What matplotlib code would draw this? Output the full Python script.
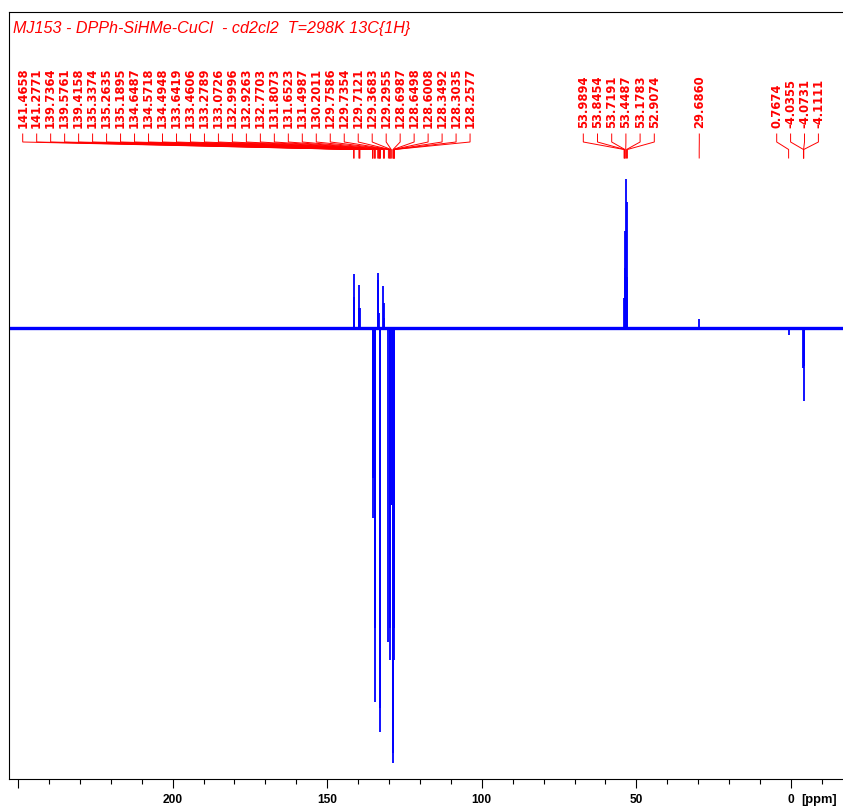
import matplotlib
matplotlib.use("Agg")
import matplotlib.pyplot as plt
from matplotlib.ticker import MultipleLocator, FixedLocator, FixedFormatter

# ---------------- data ----------------
title = "MJ153 - DPPh-SiHMe-CuCl  - cd2cl2  T=298K 13C{1H}"

peak_ppm = [141.4658, 141.2771, 139.7364, 139.5761, 139.4158, 135.3374, 135.2635,
            135.1895, 134.6487, 134.5718, 134.4948, 133.6419, 133.4606, 133.2789,
            133.0726, 132.9996, 132.9263, 132.7703, 131.8073, 131.6523, 131.4987,
            130.2011, 129.7586, 129.7354, 129.7121, 129.3683, 129.2955, 128.6987,
            128.6498, 128.6008, 128.3492, 128.3035, 128.2577,
            53.9894, 53.8454, 53.7191, 53.4487, 53.1783, 52.9074,
            29.6860,
            0.7674, -4.0355, -4.0731, -4.1111]
peak_int = [54, 31, 20, 43, 20, -150, -190,
            -150, -300, -374, -190, 55, 48, 15,
            -404, -380, -341, -15, 42, 25, 10,
            -314, -227, -332, -300, -177, -177, -425,
            -435, -400, -300, -332, -300,
            30, 60, 97, 149, 126, 51,
            9,
            -7, -40, -73, -38]

ppm_range = (253.07, -16.82)
intensity_range = (-451.3, 315.7)
tick_major = [250, 200, 150, 100, 50, 0]
tick_labels = ["", "200", "150", "100", "50", "0"]
unit_label = "[ppm]"

# ---------------- figure ----------------
W, H = 843, 810
fig = plt.figure(figsize=(W / 100, H / 100), dpi=100)
fig.patch.set_facecolor("white")

ax_l, ax_r, ax_t, ax_b = 8.5, 843.0, 12.3, 779.3
ax = fig.add_axes([ax_l / W, (H - ax_b) / H, (ax_r - ax_l) / W, (ax_b - ax_t) / H])
ax.set_xlim(*ppm_range)
ax.set_ylim(*intensity_range)

blue = "#0000FF"
red = "#FF0000"

ax.axhline(0, color=blue, lw=2.4, zorder=2)
ax.vlines(peak_ppm, 0, peak_int, color=blue, lw=1.3, zorder=3)

ax.spines["right"].set_visible(False)
for s in ["left", "top", "bottom"]:
    ax.spines[s].set_linewidth(0.8)
    ax.spines[s].set_color("black")

ax.yaxis.set_visible(False)
ax.xaxis.set_major_locator(FixedLocator(tick_major))
ax.xaxis.set_major_formatter(FixedFormatter(tick_labels))
ax.xaxis.set_minor_locator(MultipleLocator(10))
ax.tick_params(axis="x", which="major", direction="out", length=6.5, width=0.8, pad=4.0,
               labelsize=8.6, colors="black")
ax.tick_params(axis="x", which="minor", direction="out", length=3.3, width=0.8)
for lab in ax.get_xticklabels():
    lab.set_fontfamily("Liberation Sans")
    lab.set_fontweight("bold")

# ---------------- overlay in pixel coordinates ----------------
ov = fig.add_axes([0, 0, 1, 1], zorder=5)
ov.set_xlim(0, W)
ov.set_ylim(H, 0)
ov.axis("off")
ov.patch.set_alpha(0)

def px(ppm):
    return ax.transData.transform([(ppm, 0)])[0][0]

# title
ov.text(13.3, 33.0, title, color=red, fontsize=11.6, fontstyle="italic",
        family="Liberation Sans", ha="left", va="baseline")

# unit label next to 0
ov.text(px(0) + 10.5, 800, unit_label, color="black", fontsize=9.3, fontweight="bold",
        family="Liberation Sans", ha="left", va="center")

# peak label groups: (ppm selector, first label x in px, spacing px)
groups = [
    (lambda p: p > 100, 22.7, 13.98),
    (lambda p: 45 < p < 60, 583.3, 14.2),
    (lambda p: 20 < p < 40, 699.3, 14.0),
    (lambda p: p < 5, 776.7, 13.9),
]
y_text, y_l1, y_l2, y_l3, y_l4 = 128.5, 134.0, 142.0, 149.5, 158.0
for sel, x0, dx in groups:
    members = [p for p in peak_ppm if sel(p)]
    for i, p in enumerate(members):
        lx = x0 + i * dx
        pxp = px(p)
        ov.text(lx, y_text, f"{p:.4f}", rotation=90, color=red, fontsize=8.3,
                fontweight="bold", family="DejaVu Sans", ha="center", va="bottom")
        ov.plot([lx, lx, pxp, pxp], [y_l1, y_l2, y_l3, y_l4], color=red, lw=0.7,
                solid_joinstyle="miter")

fig.savefig("out.png", dpi=100)
